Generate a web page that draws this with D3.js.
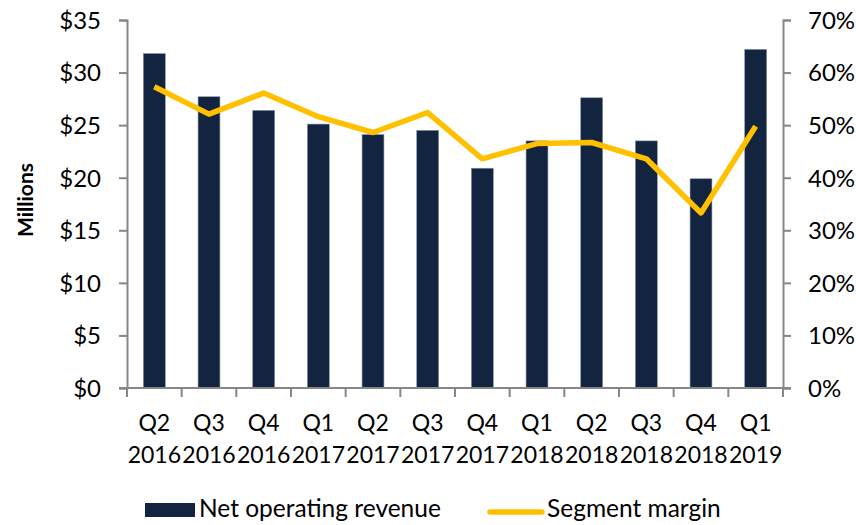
<!DOCTYPE html>
<html><head><meta charset="utf-8">
<script src="https://cdn.jsdelivr.net/npm/d3@7"></script>
<style>
body{margin:0;background:#fff;}
text{font-family:Lato,"Open Sans",sans-serif;fill:#000;}
</style></head>
<body><svg id="c" width="856" height="525"></svg>
<script>
const quarters = ["Q2","Q3","Q4","Q1","Q2","Q3","Q4","Q1","Q2","Q3","Q4","Q1"];
const years = ["2016","2016","2016","2017","2017","2017","2017","2018","2018","2018","2018","2019"];
const revenue = [31.8,27.7,26.4,25.1,24.1,24.5,20.9,23.5,27.6,23.5,19.9,32.2];
const margin = [57.3,52.1,56.1,51.6,48.6,52.4,43.6,46.5,46.7,43.6,33.3,49.8];
const leftTicks = [0,5,10,15,20,25,30,35];
const rightTicks = [0,10,20,30,40,50,60,70];
const seriesNames = ["Net operating revenue","Segment margin"];

const svg = d3.select("#c");
const L = 127, R = 783, T = 20, B = 388;
const axisColor = "#868686";
const idx = d3.range(quarters.length);
const x = d3.scaleBand().domain(idx).range([L,R]).paddingInner(0.6).paddingOuter(0.3);
const xb = d3.scaleBand().domain(idx).range([L,R]);
const yL = d3.scaleLinear().domain([0,35]).range([B,T]);
const yR = d3.scaleLinear().domain([0,70]).range([B,T]);

// bars
svg.append("g").selectAll("rect").data(revenue).join("rect")
  .attr("x",(d,i)=>x(i)).attr("width",x.bandwidth())
  .attr("y",d=>yL(d)).attr("height",d=>B-yL(d))
  .attr("fill","#12243f").attr("stroke","#7f8ea3").attr("stroke-width",0.6);

// left axis
const gl = svg.append("g").attr("transform",`translate(${L},0)`)
  .call(d3.axisLeft(yL).tickValues(leftTicks).tickFormat(d=>"$"+d).tickSize(8).tickPadding(18));
// right axis
const gr = svg.append("g").attr("transform",`translate(${R},0)`)
  .call(d3.axisRight(yR).tickValues(rightTicks).tickFormat(d=>d+"%").tickSize(8).tickPadding(17));
[gl,gr].forEach(g=>{
  g.select(".domain").attr("stroke",axisColor).attr("stroke-width",2);
  g.selectAll(".tick line").attr("stroke",axisColor).attr("stroke-width",2);
  g.selectAll(".tick text").attr("font-size",24).attr("font-family","Lato").attr("dy","0.35em");
});

// bottom axis
const boundaries = idx.map(i=>xb(i)).concat([R]);
svg.append("line").attr("x1",L-8).attr("x2",R+8).attr("y1",B).attr("y2",B)
  .attr("stroke",axisColor).attr("stroke-width",2);
svg.append("g").selectAll("line").data(boundaries).join("line")
  .attr("x1",d=>d).attr("x2",d=>d).attr("y1",B).attr("y2",B+9)
  .attr("stroke",axisColor).attr("stroke-width",2);
const xl = svg.append("g").selectAll("text").data(idx).join("text")
  .attr("x",i=>xb(i)+xb.bandwidth()/2).attr("text-anchor","middle").attr("font-size",23);
xl.append("tspan").attr("x",i=>xb(i)+xb.bandwidth()/2).attr("y",431).text(i=>quarters[i]);
xl.append("tspan").attr("x",i=>xb(i)+xb.bandwidth()/2).attr("y",463).text(i=>years[i]);

// line
const line = d3.line().x((d,i)=>xb(i)+xb.bandwidth()/2).y(d=>yR(d));
svg.append("path").datum(margin).attr("d",line).attr("fill","none")
  .attr("stroke","#ffc000").attr("stroke-width",5.5).attr("stroke-linejoin","round");

// y title
svg.append("text").attr("transform","translate(33,200) rotate(-90)")
  .attr("text-anchor","middle").attr("font-size",21).attr("font-weight","bold").text("Millions");

// legend
svg.append("rect").attr("x",145).attr("y",503).attr("width",50).attr("height",14).attr("fill","#12243f");
svg.append("text").attr("x",199).attr("y",517).attr("font-size",24.5).text(seriesNames[0]);
svg.append("line").attr("x1",490).attr("x2",542).attr("y1",512).attr("y2",512)
  .attr("stroke","#ffc000").attr("stroke-width",5.5).attr("stroke-linecap","round");
svg.append("text").attr("x",547).attr("y",517).attr("font-size",24.5).text(seriesNames[1]);
</script></body></html>
